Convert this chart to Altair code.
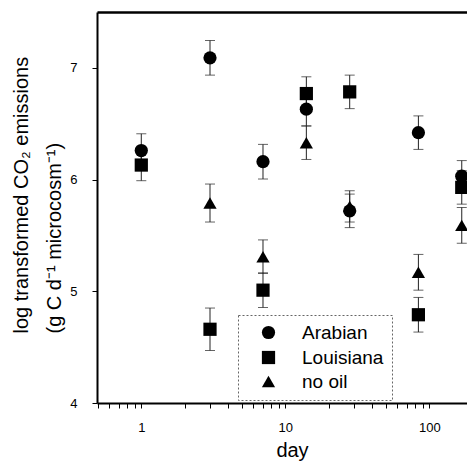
import altair as alt
import pandas as pd

days = [1, 3, 7, 14, 28, 84, 168]
arabian = [6.26, 7.09, 6.16, 6.63, 5.72, 6.42, 6.03]
arabian_err = [0.15, 0.155, 0.155, 0.15, 0.15, 0.15, 0.14]
louisiana = [6.13, 4.66, 5.01, 6.77, 6.785, 4.79, 5.93]
louisiana_err = [0.14, 0.19, 0.155, 0.15, 0.15, 0.155, 0.15]
nooil_days = [3, 7, 14, 28, 84, 168]
nooil = [5.79, 5.31, 6.33, 5.76, 5.17, 5.59]
nooil_err = [0.17, 0.15, 0.15, 0.14, 0.16, 0.16]

series = ["Arabian", "Louisiana", "no oil"]
shapes = ["circle", "square", "triangle-up"]
x_ticks = [0.5, 0.6, 0.7, 0.8, 0.9, 1, 2, 3, 4, 5, 6, 7, 8, 9, 10,
           20, 30, 40, 50, 60, 70, 80, 90, 100]
y_ticks = [4, 5, 6, 7]

rows = []
for name, dd, mm, ee in [("Arabian", days, arabian, arabian_err),
                         ("Louisiana", days, louisiana, louisiana_err),
                         ("no oil", nooil_days, nooil, nooil_err)]:
    for d, m, e in zip(dd, mm, ee):
        rows.append({"day": d, "value": m, "lo": m - e, "hi": m + e, "series": name})
df = pd.DataFrame(rows)
caps = pd.concat([
    df[["day", "lo", "series"]].rename(columns={"lo": "cap"}),
    df[["day", "hi", "series"]].rename(columns={"hi": "cap"}),
])

FONT = "Liberation Sans"
W = 370
H = 391
xscale = alt.Scale(type="log", domain=[0.4925, 182.7], nice=False)
yscale = alt.Scale(domain=[4, 7.5], nice=False, zero=False)

base = alt.Chart(df)

rules = base.mark_rule(color="#222", strokeWidth=1).encode(
    x=alt.X("day:Q", scale=xscale, axis=None),
    y=alt.Y("lo:Q", scale=yscale, axis=None),
    y2="hi:Q",
)

cap_marks = alt.Chart(caps).mark_tick(orient="horizontal", size=10, thickness=1, color="#222").encode(
    x=alt.X("day:Q", scale=xscale, axis=None),
    y=alt.Y("cap:Q", scale=yscale, axis=None),
)

points = base.mark_point(filled=True, color="black", opacity=1, size=175).encode(
    x=alt.X("day:Q", scale=xscale, axis=alt.Axis(
        values=x_ticks, title="day", grid=False,
        labelExpr="(datum.value == 1 || datum.value == 10 || datum.value == 100) ? format(datum.value, 'd') : ''",
        labelOverlap=False, labelFlush=False, tickSize=5, labelPadding=13,
        labelFont=FONT, labelFontSize=13, labelColor="black",
        titleFont=FONT, titleFontSize=20, titleFontWeight="normal", titleColor="black",
        titleX=195, titleY=53, titleBaseline="alphabetic", titleAlign="center",
        domainColor="black", domainWidth=2, tickColor="black", tickWidth=1,
    )),
    y=alt.Y("value:Q", scale=yscale, axis=alt.Axis(
        values=y_ticks, format="d", grid=False, tickSize=5, labelPadding=15,
        labelFont=FONT, labelFontSize=13, labelColor="black",
        title=["log transformed CO₂ emissions", "(g C d⁻¹ microcosm⁻¹)"],
        titleFont=FONT, titleFontSize=20, titleFontWeight="normal", titleColor="black",
        titleAngle=270, titleAlign="left", titleBaseline="top", titleLineHeight=33,
        titleX=-86, titleY=321,
        domainColor="black", domainWidth=2, tickColor="black", tickWidth=1,
    )),
    shape=alt.Shape("series:N", scale=alt.Scale(domain=series, range=shapes), legend=alt.Legend(
        title=None, orient="none", legendX=141, legendY=303,
        labelFont=FONT, labelFontSize=19, labelColor="black",
        symbolFillColor="black", symbolStrokeColor="black", symbolSize=175,
        symbolOffset=13, labelOffset=24, padding=8, rowPadding=4,
        fillColor="white",
    )),
)

top_axis = base.mark_point(opacity=0).encode(
    x=alt.X("day:Q", scale=xscale, axis=alt.Axis(
        orient="top", labels=False, ticks=False, title=None, grid=False,
        domainColor="black", domainWidth=2.5,
    )),
    y=alt.Y("value:Q", scale=yscale, axis=None),
)

chart = alt.layer(rules, cap_marks, points, top_axis).resolve_axis(
    x="independent", y="independent"
).properties(
    width=W, height=H,
    autosize=alt.AutoSizeParams(type="none"),
    padding={"left": 89, "top": 4, "right": 0, "bottom": 58},
).configure_view(strokeWidth=0).configure_legend(
    strokeColor="#666", strokeDash=[2, 2], strokeWidth=1,
)

chart.save("out.html", embed_options={"renderer": "svg", "actions": False})
